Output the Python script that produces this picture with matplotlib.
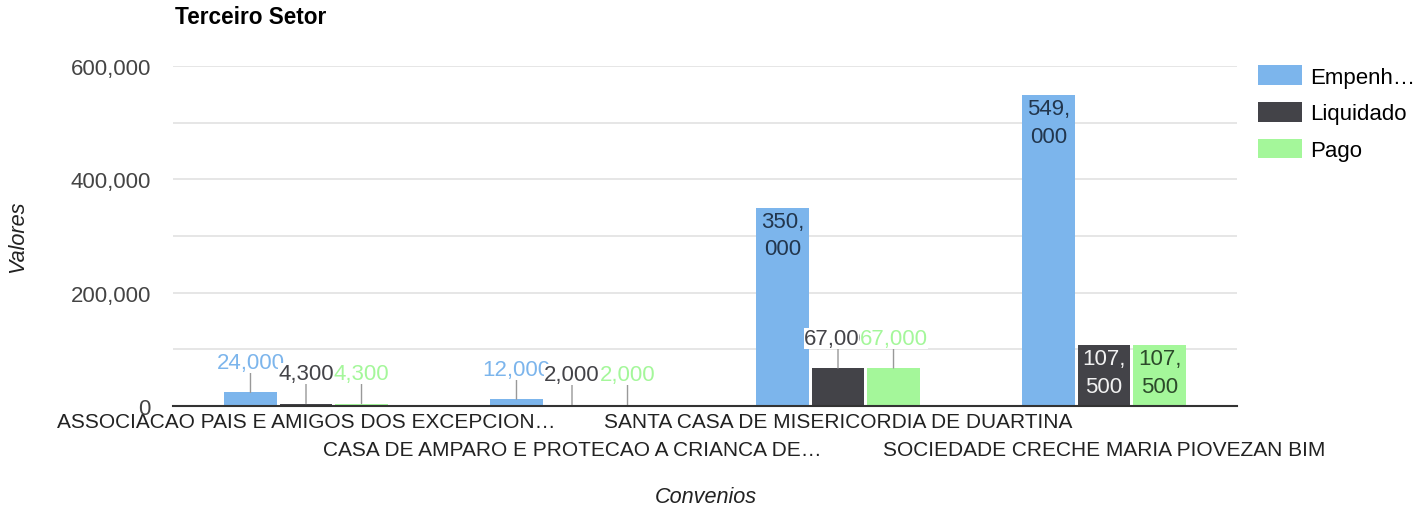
import numpy as np
import matplotlib
matplotlib.use("Agg")
import matplotlib.pyplot as plt
from matplotlib.patches import Patch
from matplotlib.ticker import FuncFormatter, MultipleLocator

plt.rcParams['font.family'] = ['Liberation Sans', 'DejaVu Sans']

# Data
convenios = ["ASSOCIACAO PAIS E AMIGOS DOS EXCEPCION…",
             "CASA DE AMPARO E PROTECAO A CRIANCA DE…",
             "SANTA CASA DE MISERICORDIA DE DUARTINA",
             "SOCIEDADE CRECHE MARIA PIOVEZAN BIM"]
series_names = ["Empenh…", "Liquidado", "Pago"]
empenhado = [24000, 12000, 350000, 549000]
liquidado = [4300, 2000, 67000, 107500]
pago = [4300, 2000, 67000, 107500]

colors = ['#7cb5ec', '#434348', '#a4f79a']
inside_colors = ['#22364d', '#f2f2f2', '#2c4a2a']

FS = 15      # category labels
FS_NUM = 16  # numbers, legend, title

fig = plt.figure(figsize=(14.27, 5.10), dpi=100)
ax = fig.add_axes([173 / 1427, 103 / 510, 1064 / 1427, 340 / 510])

x = np.arange(len(convenios))
slot = 0.2087
width = 0.198

all_series = [empenhado, liquidado, pago]
for i, vals in enumerate(all_series):
    xs = x + (i - 1) * slot
    ax.bar(xs, vals, width=width, color=colors[i], zorder=2)

# data labels
for i, vals in enumerate(all_series):
    xs = x + (i - 1) * slot
    for xi, v in zip(xs, vals):
        txt = f"{v:,}"
        px_h = v / 600000 * 340
        if px_h > 55:
            a, b = txt.split(',')
            ax.annotate(a + ',\n' + b, (xi, v), xytext=(0, -3),
                        textcoords='offset pixels', ha='center', va='top',
                        fontsize=FS_NUM, color=inside_colors[i], linespacing=1.42,
                        zorder=4)
        else:
            ax.annotate('', (xi, v), xytext=(0, 20), textcoords='offset pixels',
                        arrowprops=dict(arrowstyle='-', color='#999999', lw=1,
                                        shrinkA=0, shrinkB=0), zorder=3)
            ax.annotate(txt, (xi, v), xytext=(0, 30), textcoords='offset pixels',
                        ha='center', va='center', fontsize=FS_NUM, color=colors[i],
                        bbox=dict(facecolor='white', edgecolor='none', pad=0),
                        zorder=5 + i, annotation_clip=False)

ax.set_xlim(-0.5, 3.5)
ax.set_ylim(0, 600000)
ax.yaxis.set_major_locator(MultipleLocator(200000))
ax.yaxis.set_minor_locator(MultipleLocator(100000))
ax.yaxis.set_major_formatter(FuncFormatter(lambda v, p: f"{int(v):,}"))
ax.grid(axis='y', which='both', color='#e2e2e2', lw=1.2, zorder=0)
ax.tick_params(axis='y', which='both', length=0, labelsize=FS_NUM,
               labelcolor='#444444', pad=16)

ax.set_xticks(x)
ax.set_xticklabels(convenios, fontsize=FS, color='#222222')
ax.tick_params(axis='x', length=0, pad=4.5)
for k, t in enumerate(ax.xaxis.get_major_ticks()):
    if k % 2 == 1:
        t.set_pad(24.5)

for s in ['top', 'right', 'left']:
    ax.spines[s].set_visible(False)
ax.spines['bottom'].set_color('#333333')
ax.spines['bottom'].set_linewidth(1.5)
ax.spines['bottom'].set_zorder(3)

fig.text(175 / 1427, 1 - 18 / 510, "Terceiro Setor", fontsize=16.3,
         fontweight='bold', va='center', ha='left', color='#000000')
fig.text(18 / 1427, 1 - 237 / 510, "Valores", fontsize=15.6, style='italic',
         rotation=90, va='center', ha='center', color='#222222')
fig.text(706 / 1427, 1 - 498 / 510, "Convenios", fontsize=15.6, style='italic',
         va='center', ha='center', color='#222222')

handles = [Patch(facecolor=c, edgecolor='none') for c in colors]
fig.legend(handles, series_names, loc='upper left',
           bbox_to_anchor=(1258 / 1427, 1 - 66 / 510), frameon=False,
           fontsize=FS_NUM, handlelength=2.0, handleheight=1.0,
           handletextpad=0.35, labelspacing=0.64, borderpad=0,
           borderaxespad=0)

fig.savefig("out.png", dpi=100)
